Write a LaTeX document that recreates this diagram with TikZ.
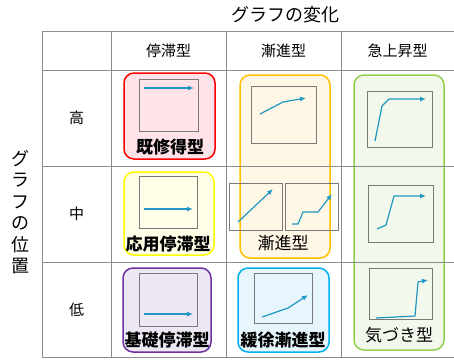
\documentclass[tikz,border=0pt]{standalone}
\usepackage{fontspec}
\setmainfont{Noto Sans CJK JP}
\usetikzlibrary{arrows.meta}
\definecolor{arr}{HTML}{1F97C2}
\definecolor{tline}{HTML}{8C8C8C}
\definecolor{sq}{HTML}{7A7A7A}
\definecolor{redS}{HTML}{FF0000}\definecolor{redF}{HTML}{FFE3E8}
\definecolor{orgS}{HTML}{FFC000}\definecolor{orgF}{HTML}{FFF7E6}
\definecolor{grnS}{HTML}{92D050}\definecolor{grnF}{HTML}{F3F8EC}
\definecolor{ylwS}{HTML}{FFFF00}\definecolor{ylwF}{HTML}{FFFFE8}
\definecolor{prpS}{HTML}{7030A0}\definecolor{prpF}{HTML}{EDE7F3}
\definecolor{bluS}{HTML}{00B0F0}\definecolor{bluF}{HTML}{E6F6FC}
\begin{document}
\begin{tikzpicture}[x=1pt,y=-1pt,
  tabline/.style={draw=tline,line width=0.8pt},
  catbox/.style={rounded corners=10pt,line width=1.5pt},
  sqbox/.style={draw=sq,line width=0.9pt},
  trend/.style={draw=arr,line width=1.2pt,-{Latex[length=6pt,width=5pt]}},
  hdr/.style={font=\fontsize{15}{15}\selectfont,inner sep=0pt},
  lbl/.style={font=\fontsize{17}{17}\selectfont\bfseries,inner sep=0pt},
  lblr/.style={font=\fontsize{17}{17}\selectfont,inner sep=0pt}]
\useasboundingbox (0,0) rectangle (454,360);
% coloured category boxes
\draw[catbox,draw=redS,fill=redF] (124,73) rectangle (215,159);
\draw[catbox,draw=orgS,fill=orgF] (240,75) rectangle (330,258);
\draw[catbox,draw=grnS,fill=grnF] (354,75) rectangle (444,350);
\draw[catbox,draw=ylwS,fill=ylwF] (124,172) rectangle (214,255);
\draw[catbox,draw=prpS,fill=prpF] (123,268) rectangle (211,352);
\draw[catbox,draw=bluS,fill=bluF] (238,268) rectangle (329,352);
% table
\draw[tabline] (42,31) -- (454,31);
\draw[tabline] (42,70) -- (454,70);
\draw[tabline] (42,166) -- (454,166);
\draw[tabline] (42,262) -- (454,262);
\draw[tabline] (42,357) -- (454,357);
\draw[tabline] (42,31) -- (42,357);
\draw[tabline] (111,31) -- (111,357);
\draw[tabline] (226,31) -- (226,357);
\draw[tabline] (341,31) -- (341,357);
% titles
\node[font=\fontsize{18}{18}\selectfont,inner sep=0pt] (title) at (285,15) {グラフの変化};
\node[font=\fontsize{18}{21.5}\selectfont,align=center,inner sep=0pt] (vtitle) at (20,212) {グ\\ラ\\フ\\の\\位\\置};
\node[hdr] (c1) at (168.5,51) {停滞型};
\node[hdr] (c2) at (283.5,51) {漸進型};
\node[hdr] (c3) at (397.5,51) {急上昇型};
\node[hdr] (r1) at (76.5,118) {高};
\node[hdr] (r2) at (76.5,214) {中};
\node[hdr] (r3) at (76.5,310) {低};
% inner squares
\draw[sqbox] (139,79) rectangle (198,131);
\draw[sqbox] (251,86) rectangle (316,143);
\draw[sqbox] (367,91) rectangle (432,147);
\draw[sqbox] (139,176) rectangle (197,228);
\draw[sqbox] (229,183) rectangle (282,230);
\draw[sqbox] (285,183) rectangle (338,230);
\draw[sqbox] (368,185) rectangle (433,242);
\draw[sqbox] (139,273) rectangle (197,326);
\draw[sqbox] (254,273) rectangle (312,323);
\draw[sqbox] (369,268) rectangle (432,319);
% trends
\draw[trend] (144,88) -- (194,88);
\draw[trend] (260,114) -- (283,102) -- (306,98);
\draw[trend] (375,141) -- (382,106) -- (389,99) -- (426,99);
\draw[trend] (144,209) -- (193,209);
\draw[trend] (238,222) -- (273,189);
\draw[trend] (292,224) -- (298,224) -- (303,212) -- (318,212) -- (332,194);
\draw[trend] (377,229) -- (386,225) -- (394,196) -- (426,196);
\draw[trend] (144,314) -- (193,314);
\draw[trend] (262,317) -- (288,308) -- (308,295);
\draw[trend] (376,318) -- (415,316) -- (418,282) -- (428,280);
% labels
\node[lbl] (l1) at (170,147) {既修得型};
\node[lbl] (l2) at (168,244) {応用停滞型};
\node[lbl] (l3) at (167,340) {基礎停滞型};
\node[lblr] (l4) at (283,243) {漸進型};
\node[lbl] (l5) at (283,340) {緩徐漸進型};
\node[lblr] (l6) at (399,335) {気づき型};
\end{tikzpicture}
\end{document}
